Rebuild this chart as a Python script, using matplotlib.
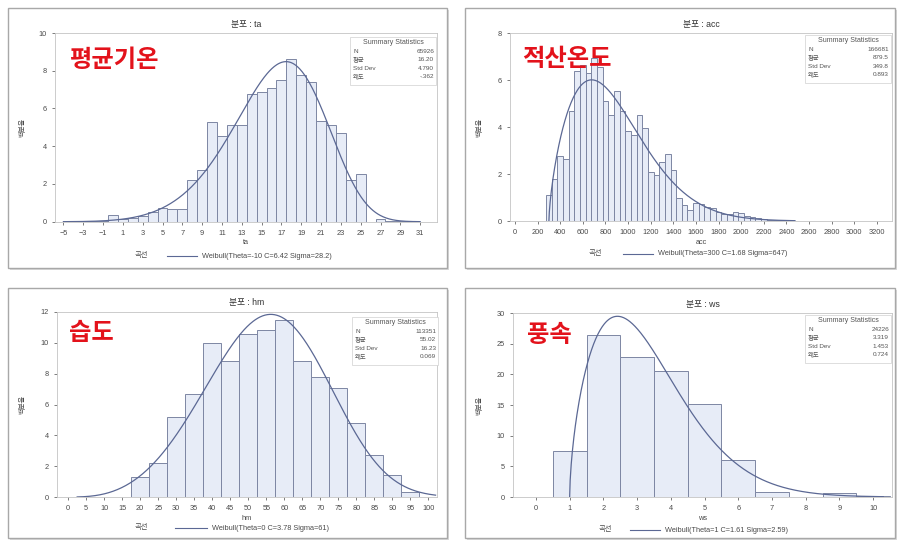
import numpy as np
import matplotlib
matplotlib.use("Agg")
import matplotlib.pyplot as plt
from matplotlib.patches import Rectangle
from matplotlib.lines import Line2D

plt.rcParams['font.family'] = ['Liberation Sans', 'Noto Sans CJK KR', 'DejaVu Sans']

W, H = 897, 541

# 평균기온 (ta) 히스토그램, 구간폭 1
ta_mid = [-3, -2, -1, 0, 1, 2, 3, 4, 5, 6, 7, 8, 9, 10, 11, 12, 13, 14, 15, 16,
          17, 18, 19, 20, 21, 22, 23, 24, 25, 26, 27, 28, 29, 30]
ta_pct = [0.02, 0.03, 0.05, 0.35, 0.12, 0.2, 0.3, 0.5, 0.72, 0.68, 0.67, 2.2,
          2.75, 5.3, 4.55, 5.1, 5.15, 6.75, 6.85, 7.1, 7.5, 8.6, 7.8, 7.4, 5.35,
          5.1, 4.7, 2.2, 2.55, 0.0, 0.12, 0.05, 0.05, 0.02]
ta_ticks = list(range(-5, 32, 2))
ta_fit = (-10, 6.42, 28.2)
ta_stats = ["65926", "16.20", "4.790", "-.362"]

# 적산온도 (acc) 히스토그램, 구간폭 50
acc_mid = list(range(300, 2500, 50))
acc_pct = [1.1, 1.8, 2.75, 2.65, 4.7, 6.4, 6.65, 6.3, 6.95, 6.55, 5.1, 4.5,
           5.55, 4.7, 3.85, 3.65, 4.5, 3.95, 2.1, 1.97, 2.5, 2.85, 2.15, 1.0,
           0.7, 0.45, 0.75, 0.72, 0.6, 0.55, 0.38, 0.3, 0.3, 0.4, 0.35, 0.22,
           0.15, 0.12, 0.08, 0.06, 0.05, 0.03, 0.02, 0.01]
acc_ticks = list(range(0, 3201, 200))
acc_fit = (300, 1.68, 647)
acc_stats = ["166681", "879.5", "349.8", "0.893"]

# 습도 (hm) 히스토그램, 구간폭 5
hm_mid = list(range(20, 100, 5))
hm_pct = [1.3, 2.2, 5.2, 6.65, 10.0, 8.85, 10.55, 10.85, 11.5, 8.8, 7.8, 7.1,
          4.8, 2.75, 1.45, 0.3]
hm_ticks = list(range(0, 101, 5))
hm_fit = (0, 3.78, 61)
hm_stats = ["113351", "55.02", "16.23", "0.069"]

# 풍속 (ws) 히스토그램, 구간폭 1
ws_mid = list(range(1, 11))
ws_pct = [7.45, 26.4, 22.9, 20.5, 15.2, 6.1, 0.85, 0.0, 0.65, 0.1]
ws_ticks = list(range(0, 11))
ws_fit = (1, 1.61, 2.59)
ws_stats = ["24226", "3.319", "1.453", "0.724"]

stat_names = ["N", "평균", "Std Dev", "왜도"]

BAR_FACE = '#e7ecf7'
BAR_EDGE = '#7d86a3'
CURVE = '#5b6894'
TXT = '#4a4a4a'


def fx(x):
    return x / W


def fy(y):
    return 1 - y / H


def weibull_pct(x, theta, c, sigma, width):
    z = np.clip((x - theta) / sigma, 0, None)
    return 100 * width * c / sigma * z ** (c - 1) * np.exp(-z ** c)


fig = plt.figure(figsize=(W / 100, H / 100), dpi=100)
fig.patch.set_facecolor('white')

panels = [
    dict(var='ta', name='평균기온', mid=ta_mid, pct=ta_pct, width=1, ticks=ta_ticks,
         fit=ta_fit, stats=ta_stats, ymax=10, ystep=2, xlim=(-5.85, 32.7),
         curve=(-5, 31), frame=(8, 8, 447, 268), ax=(55, 33, 437, 221.7),
         label=(69, 60), box=(350, 37), leg=(141, 167, 197, 256)),
    dict(var='acc', name='적산온도', mid=acc_mid, pct=acc_pct, width=50, ticks=acc_ticks,
         fit=acc_fit, stats=acc_stats, ymax=8, ystep=2, xlim=(-44, 3333),
         curve=(300, 2475), frame=(465, 8, 895, 268), ax=(510, 33, 892, 221),
         label=(522, 59), box=(805, 35), leg=(595, 623, 653, 254)),
    dict(var='hm', name='습도', mid=hm_mid, pct=hm_pct, width=5, ticks=hm_ticks,
         fit=hm_fit, stats=hm_stats, ymax=12, ystep=2, xlim=(-3.1, 102.4),
         curve=(2.5, 102), frame=(8, 288, 447, 538), ax=(57, 312, 437, 497),
         label=(69, 333), box=(352, 317), leg=(141, 175, 207, 528)),
    dict(var='ws', name='풍속', mid=ws_mid, pct=ws_pct, width=1, ticks=ws_ticks,
         fit=ws_fit, stats=ws_stats, ymax=30, ystep=5, xlim=(-0.68, 10.56),
         curve=(1, 10.3), frame=(465, 288, 895, 538), ax=(513, 313, 892, 497),
         label=(527, 335), box=(805, 315), leg=(605, 630, 660, 530)),
]

for p in panels:
    # 패널 테두리 (그림자 포함)
    x0, y0, x1, y1 = p['frame']
    fig.patches.append(Rectangle((fx(x0 + 2), fy(y1 + 2)), (x1 - x0) / W, (y1 - y0) / H,
                                 transform=fig.transFigure, facecolor='#d9d9d9',
                                 edgecolor='none', zorder=-3))
    fig.patches.append(Rectangle((fx(x0), fy(y1)), (x1 - x0) / W, (y1 - y0) / H,
                                 transform=fig.transFigure, facecolor='white',
                                 edgecolor='#a8a8a8', lw=1.0, zorder=-2))

    l, t, r, b = p['ax']
    ax = fig.add_axes([fx(l), fy(b), (r - l) / W, (b - t) / H])
    ax.set_zorder(1)
    ax.patch.set_alpha(0)
    ax.bar(p['mid'], p['pct'], width=p['width'], color=BAR_FACE,
           edgecolor=BAR_EDGE, linewidth=0.7, zorder=2)
    xs = np.linspace(p['curve'][0], p['curve'][1], 600)
    theta, c, sigma = p['fit']
    ax.plot(xs, weibull_pct(xs, theta, c, sigma, p['width']), color=CURVE, lw=0.9, zorder=3)

    ax.set_xlim(*p['xlim'])
    ax.set_ylim(0, p['ymax'])
    ax.set_xticks(p['ticks'])
    ax.set_yticks(np.arange(0, p['ymax'] + 0.1, p['ystep']))
    ax.tick_params(labelsize=5.3, colors=TXT, length=2, width=0.5, pad=4)
    for s in ax.spines.values():
        s.set_color('#c4c4c4')
        s.set_linewidth(0.6)

    # 제목, 축 이름
    cx = (l + r) / 2
    fig.text(fx(cx), fy(t - 9), f"분포 : {p['var']}", ha='center', va='center',
             fontsize=6.3, color='#333333')
    fig.text(fx(cx), fy(b + 21), p['var'], ha='center', va='center', fontsize=5.3, color=TXT)
    fig.text(fx(p['frame'][0] + 15), fy((t + b) / 2), "백분율", rotation=90,
             ha='center', va='center', fontsize=5, color=TXT)

    # 변수 이름 (빨간 글씨)
    lx, ly = p['label']
    fig.text(fx(lx), fy(ly), p['name'], ha='left', va='center', fontsize=17.5,
             fontweight='bold', color='#e3121b', family=['Noto Sans CJK KR'], zorder=6)

    # 요약 통계 상자
    bx, by = p['box']
    bw, bh = 86, 48
    fig.patches.append(Rectangle((fx(bx), fy(by + bh)), bw / W, bh / H,
                                 transform=fig.transFigure, facecolor='white',
                                 edgecolor='#d0d0d0', lw=0.5, zorder=5))
    fig.text(fx(bx + bw / 2), fy(by + 6), "Summary Statistics", ha='center',
             va='center', fontsize=5, color='#555555', zorder=6)
    for i, (nm, val) in enumerate(zip(stat_names, p['stats'])):
        yy = by + 14.4 + 8.4 * i
        fig.text(fx(bx + 3), fy(yy), nm, ha='left', va='center', fontsize=4.6,
                 color='#555555', zorder=6)
        fig.text(fx(bx + bw - 2), fy(yy), val, ha='right', va='center', fontsize=4.6,
                 color='#555555', zorder=6)

    # 범례
    gx, lx0, lx1, gy = p['leg']
    fig.text(fx(gx), fy(gy), "곡선", ha='center', va='center', fontsize=5.3, color=TXT)
    fig.lines.append(Line2D([fx(lx0), fx(lx1)], [fy(gy), fy(gy)], transform=fig.transFigure,
                            color=CURVE, lw=0.8))
    fig.text(fx(lx1 + 5), fy(gy),
             f"Weibull(Theta={theta:g} C={c:g} Sigma={sigma:g})",
             ha='left', va='center', fontsize=5.3, color=TXT)

fig.savefig("out.png", dpi=100)
